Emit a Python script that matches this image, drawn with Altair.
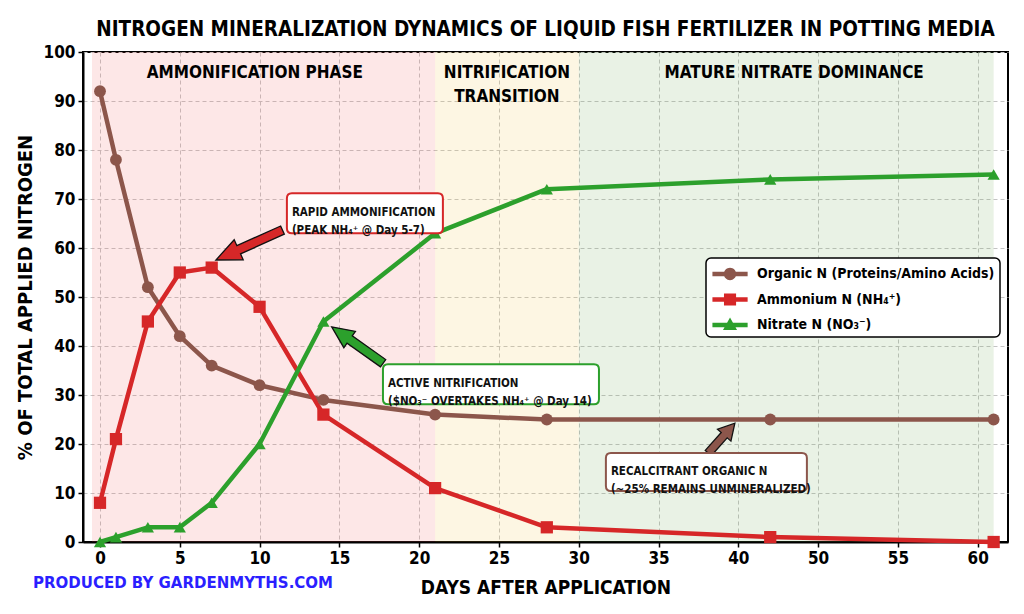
import altair as alt
import pandas as pd

# ---------------- data ----------------
days = [0, 1, 3, 5, 7, 10, 14, 21, 28, 42, 56]
organic = [92, 78, 52, 42, 36, 32, 29, 26, 25, 25, 25]
ammonium = [8, 21, 45, 55, 56, 48, 26, 11, 3, 1, 0]
nitrate = [0, 1, 3, 3, 8, 20, 45, 63, 72, 74, 75]
series_names = ["Organic N (Proteins/Amino Acids)", "Ammonium N (NH₄⁺)", "Nitrate N (NO₃⁻)"]
series_values = [organic, ammonium, nitrate]
series_colors = ["#8c564b", "#d62728", "#2ca02c"]
series_shapes = ["circle", "square", "triangle-up"]

phase_start = [-0.5, 21, 30]
phase_end = [21, 30, 56]
phase_colors = ["#f26060", "#f0c040", "#6aa550"]
phase_labels = ["AMMONIFICATION PHASE", "NITRIFICATION\nTRANSITION", "MATURE NITRATE DOMINANCE"]
phase_label_day = [9.7, 25.5, 43.5]
phase_label_pct = [95.7, 95.7, 95.7]

x_tick_values = [0, 5, 10, 15, 20, 25, 30, 35, 40, 45, 50, 55]
x_tick_labels = ["0", "5", "10", "15", "20", "25", "30", "35", "40", "50", "55", "60"]
y_tick_values = [0, 10, 20, 30, 40, 50, 60, 70, 80, 90, 100]

ann_text = [
    "RAPID AMMONIFICATION\n(PEAK NH₄⁺ @ Day 5-7)",
    "ACTIVE NITRIFICATION\n($NO₃⁻ OVERTAKES NH₄⁺ @ Day 14)",
    "RECALCITRANT ORGANIC N\n(~25% REMAINS UNMINERALIZED)",
]
ann_day = [16.6, 24.5, 38.0]
ann_pct = [67.1, 32.2, 14.3]
ann_colors = ["#d62728", "#2ca02c", "#8c564b"]
arrow_day = [9.35, 16.13, 38.95]
arrow_pct = [60.6, 40.2, 21.2]
arrow_angle = [155.8, 215.3, 311.7]

# ---------------- styles ----------------
FONT = "'Liberation Sans Narrow', 'Arial Narrow', 'DejaVu Sans Condensed', 'Liberation Sans', sans-serif"
W, H = 925, 490
box_px = [(156, 40), (216, 40), (201, 38)]
arrow_px = [(73, 25, 11, 4.5), (63, 22, 10, 4.5), (40, 16, 9, 4)]


def box_path(w, h, r):
    s = w / 2.0
    hw, hh, rr = 1.0, (h / 2.0) / s, r / s
    return (f"M {-hw+rr} {-hh} L {hw-rr} {-hh} Q {hw} {-hh} {hw} {-hh+rr} "
            f"L {hw} {hh-rr} Q {hw} {hh} {hw-rr} {hh} L {-hw+rr} {hh} "
            f"Q {-hw} {hh} {-hw} {hh-rr} L {-hw} {-hh+rr} Q {-hw} {-hh} {-hw+rr} {-hh} Z")


def arrow_path(length, head_len, head_hw, shaft_hw):
    s = length / 2.0
    hb = 1 - head_len / s
    a, b = head_hw / s, shaft_hw / s
    return (f"M -1 {-b} L {hb} {-b} L {hb} {-a} L 1 0 L {hb} {a} L {hb} {b} L -1 {b} Z")


def circ(r, cx=0.0, cy=0.0):
    k = 0.5523 * r
    return (f"M {cx+r} {cy} C {cx+r} {cy+k} {cx+k} {cy+r} {cx} {cy+r} "
            f"C {cx-k} {cy+r} {cx-r} {cy+k} {cx-r} {cy} "
            f"C {cx-r} {cy-k} {cx-k} {cy-r} {cx} {cy-r} "
            f"C {cx+k} {cy-r} {cx+r} {cy-k} {cx+r} {cy} Z")


# legend glyph: a line segment with the marker, drawn in a 22px symbol box
C = 0.73  # horizontal centre of the glyph inside the symbol box (units of 11px)
LINE = f"M {C-1.6} -0.2 L {C+1.6} -0.2 L {C+1.6} 0.2 L {C-1.6} 0.2 Z "
legend_shapes = [
    LINE + circ(0.56, C, 0),
    LINE + f"M {C-0.55} -0.55 L {C+0.55} -0.55 L {C+0.55} 0.55 L {C-0.55} 0.55 Z",
    LINE + f"M {C} -0.68 L {C+0.64} 0.46 L {C-0.64} 0.46 Z",
]

# ---------------- tables ----------------
rows = []
for name, vals in zip(series_names, series_values):
    for d, v in zip(days, vals):
        rows.append({"day": d, "pct": v, "series": name})
df = pd.DataFrame(rows)

phases = pd.DataFrame({"start": phase_start, "end": phase_end, "color": phase_colors})
plabels = pd.DataFrame({"day": phase_label_day, "pct": phase_label_pct, "label": phase_labels})

label_expr = " : ".join(
    f"datum.value == {v} ? '{l}'" for v, l in zip(x_tick_values, x_tick_labels)
) + " : datum.label"

xscale = alt.Scale(domain=[-1.065, 56.9], nice=False, zero=False)
yscale = alt.Scale(domain=[0, 100], nice=False)
cscale = alt.Scale(domain=series_names, range=series_colors)

x_axis = alt.Axis(title="DAYS AFTER APPLICATION", values=x_tick_values, labelExpr=label_expr)
y_axis = alt.Axis(title="% OF TOTAL APPLIED NITROGEN", values=y_tick_values)
x_enc = alt.X("day:Q", scale=xscale, axis=x_axis)
y_enc = alt.Y("pct:Q", scale=yscale, axis=y_axis)

base = alt.Chart(df)

bg = alt.Chart(phases).mark_rect(opacity=0.15).encode(
    x=alt.X("start:Q", scale=xscale, axis=x_axis),
    x2="end:Q",
    fill=alt.Fill("color:N", scale=None, legend=None),
)

phase_text = alt.Chart(plabels).mark_text(
    font=FONT, fontSize=17, fontWeight="bold", color="black",
    lineBreak="\n", lineHeight=24, baseline="middle", align="center"
).encode(x=alt.X("day:Q", scale=xscale), y=alt.Y("pct:Q", scale=yscale, axis=y_axis), text="label:N")

leg_props = dict(
    title=None, orient="none", legendX=623, legendY=206,
    fillColor="white", strokeColor="black", cornerRadius=5,
    padding=5, labelFont=FONT, labelFontSize=14, labelFontWeight="bold",
    labelColor="black", symbolSize=484, symbolStrokeWidth=0, labelLimit=500,
    labelOffset=24, symbolOpacity=1,
)
legend_layer = base.mark_point(filled=True, opacity=0, size=10).encode(
    x=x_enc, y=y_enc,
    color=alt.Color("series:N", scale=cscale, legend=alt.Legend(**leg_props)),
    shape=alt.Shape("series:N", scale=alt.Scale(domain=series_names, range=legend_shapes),
                    legend=alt.Legend(**leg_props)),
)

lines = base.mark_line(strokeWidth=4.5, strokeJoin="round").encode(
    x=x_enc, y=y_enc, detail="series:N",
    color=alt.Color("series:N", scale=cscale, legend=None),
)

point_layers = []
for name, shp in zip(series_names, series_shapes):
    size = 140 if shp == "circle" else 150
    point_layers.append(
        base.transform_filter(alt.datum.series == name).mark_point(
            shape=shp, filled=True, opacity=1, size=size
        ).encode(x=x_enc, y=y_enc, color=alt.Color("series:N", scale=cscale, legend=None))
    )

ann_layers = []
for i in range(3):
    L, hl, hw, sw = arrow_px[i]
    adf = pd.DataFrame({"day": [arrow_day[i]], "pct": [arrow_pct[i]], "angle": [arrow_angle[i]]})
    ann_layers.append(
        alt.Chart(adf).mark_point(
            shape=arrow_path(L, hl, hw, sw), filled=True, fill=ann_colors[i], opacity=1,
            stroke="#111111", strokeWidth=1.3, size=L * L
        ).encode(x=alt.X("day:Q", scale=xscale), y=alt.Y("pct:Q", scale=yscale),
                 angle=alt.Angle("angle:Q", scale=None))
    )
for i in range(3):
    bw, bh = box_px[i]
    tdf = pd.DataFrame({"day": [ann_day[i]], "pct": [ann_pct[i]], "text": [ann_text[i]]})
    ann_layers.append(
        alt.Chart(tdf).mark_point(
            shape=box_path(bw, bh, 5), filled=True, fill="white", opacity=1,
            stroke=ann_colors[i], strokeWidth=2, size=bw * bw
        ).encode(x=alt.X("day:Q", scale=xscale), y=alt.Y("pct:Q", scale=yscale))
    )
    ann_layers.append(
        alt.Chart(tdf).mark_text(
            font=FONT, fontSize=11.5, fontWeight="bold", color="#111111",
            lineBreak="\n", lineHeight=18, baseline="middle", align="left",
            dx=-bw / 2 + 5
        ).encode(x=alt.X("day:Q", scale=xscale), y=alt.Y("pct:Q", scale=yscale), text="text:N")
    )

credit = alt.Chart(pd.DataFrame({"t": ["PRODUCED BY GARDENMYTHS.COM"]})).mark_text(
    font="DejaVu Sans", fontSize=15, fontWeight="bold", color="#2b1fff",
    align="left", baseline="middle"
).encode(x=alt.value(-50), y=alt.value(H + 41), text="t:N")

chart = alt.layer(
    bg, phase_text, legend_layer, lines, *point_layers, *ann_layers, credit
).properties(
    width=W, height=H,
    autosize=alt.AutoSizeParams(type="none"),
    padding={"left": 75, "top": 44, "right": 4, "bottom": 56},
    title=alt.Title(
        "NITROGEN MINERALIZATION DYNAMICS OF LIQUID FISH FERTILIZER IN POTTING MEDIA",
        font=FONT, fontSize=20.5, fontWeight="bold", color="black", anchor="middle", offset=3,
    ),
).configure_view(
    stroke="black", strokeWidth=2
).configure_legend(
    strokeWidth=1.5, rowPadding=7.5,
).configure_axis(
    labelFont=FONT, labelFontSize=17, labelFontWeight="bold", labelColor="black",
    titleFont=FONT, titleFontWeight="bold", titleColor="black",
    domainColor="black", domainWidth=2, tickColor="black", tickSize=5, tickWidth=1.5,
    gridColor="#c4c4c4", gridDash=[4, 3], gridWidth=1, labelPadding=3,
).configure_axisX(
    titleFontSize=19, titlePadding=12,
).configure_axisY(
    titleFontSize=20, titlePadding=8,
)

chart.save("out.html", embed_options={"renderer": "svg", "actions": False})
